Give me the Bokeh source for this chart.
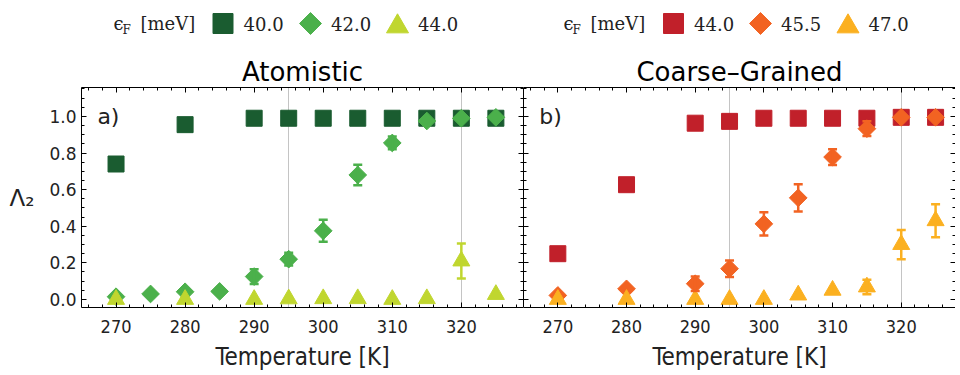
import numpy as np
from bokeh.plotting import figure
from bokeh.layouts import column, row
from bokeh.models import (Range1d, LinearAxis, SingleIntervalTicker, FixedTicker,
                          PrintfTickFormatter, Whisker, TeeHead, ColumnDataSource, Label)
from bokeh.core.properties import value
from bokeh.embed import file_html
from bokeh.resources import INLINE

# ---------------- data ----------------
T_main = [270, 280, 290, 295, 300, 305, 310, 315, 320, 325]
T_fine = [270, 275, 280, 285, 290, 295, 300, 305, 310, 315, 320, 325]

# Atomistic (a)
A40 = [0.74, 0.955, 0.99, 0.99, 0.99, 0.99, 0.99, 0.99, 0.99, 0.99]
A42 = [0.015, 0.03, 0.042, 0.044, 0.125, 0.22, 0.375, 0.68, 0.855, 0.975, 0.99, 0.995]
A42_err = [0, 0, 0, 0, 0.04, 0.035, 0.06, 0.056, 0.035, 0, 0, 0]
A44 = [0.0, 0.0, 0.0, 0.003, 0.004, 0.004, 0.0, 0.004, 0.21, 0.027]
A44_err = [0, 0, 0, 0, 0, 0, 0, 0, 0.095, 0]

# Coarse-Grained (b)
C44 = [0.25, 0.627, 0.963, 0.973, 0.99, 0.99, 0.99, 0.99, 0.995, 0.995]
C455 = [0.022, 0.058, 0.086, 0.168, 0.413, 0.555, 0.778, 0.933, 0.995, 0.995]
C455_err = [0, 0, 0.04, 0.045, 0.063, 0.075, 0.043, 0.04, 0, 0]
C47 = [0.0, 0.0, 0.0, 0.0, 0.0, 0.024, 0.05, 0.068, 0.30, 0.43]
C47_err = [0, 0, 0, 0, 0, 0, 0, 0.04, 0.08, 0.09]

left_labels = ["40.0", "42.0", "44.0"]
right_labels = ["44.0", "45.5", "47.0"]
left_colors = ["#1a5c30", "#4bb04b", "#c0d62f"]
right_colors = ["#c1202a", "#f26322", "#fbb020"]

SANS = "DejaVu Sans"
COND = "DejaVu Sans Condensed"
SERIF = "DejaVu Serif"


def style_axis(ax, ticker, labels=True):
    ax.ticker = ticker
    ax.axis_line_color = "black"
    ax.axis_line_width = 1
    ax.major_tick_in = 5
    ax.major_tick_out = 0
    ax.minor_tick_in = 3
    ax.minor_tick_out = 0
    ax.major_tick_line_color = "black"
    ax.minor_tick_line_color = "black"
    if not labels:
        ax.major_label_text_font_size = "1px"
        ax.major_label_text_color = None
        ax.major_label_standoff = 0
        ax.axis_label = None


def add_series(p, x, y, err, color, kind):
    if kind == "square":
        p.scatter(x, y, marker="square", size=16, color=color)
    elif kind == "diamond":
        p.scatter(x, y, marker="square", angle=np.pi / 4, size=12.5, color=color)
    else:
        p.scatter(x, y, marker="triangle", size=17, color=color)
    if err is not None:
        xs = [xi for xi, e in zip(x, err) if e > 0]
        up = [yi + e for yi, e in zip(y, err) if e > 0]
        lo = [yi - e for yi, e in zip(y, err) if e > 0]
        src = ColumnDataSource(dict(x=xs, upper=up, lower=lo))
        w = Whisker(source=src, base="x", upper="upper", lower="lower", dimension="height",
                    line_color=color, line_width=2.5,
                    upper_head=TeeHead(size=9, line_color=color, line_width=2.5),
                    lower_head=TeeHead(size=9, line_color=color, line_width=2.5))
        w.level = "glyph"
        p.add_layout(w)


def make_panel(title, tag, xmax, fw, mb_left, ylabels):
    p = figure(frame_width=fw, frame_height=220,
               x_range=Range1d(265, xmax), y_range=Range1d(-0.044, 1.158),
               toolbar_location=None, output_backend="svg",
               min_border_left=mb_left, min_border_right=0,
               min_border_top=39, min_border_bottom=68, title=title)
    p.outline_line_color = None
    p.background_fill_color = "white"
    p.border_fill_color = "white"
    p.title.align = "center"
    p.title.text_font = SANS
    p.title.text_font_size = "26px"
    p.title.text_font_style = "normal"
    p.title.text_color = "black"
    p.title.standoff = 2

    xa = p.xaxis[0]
    style_axis(xa, SingleIntervalTicker(interval=10, num_minor_ticks=5))
    xa.major_label_text_font = COND
    xa.major_label_text_font_size = "18px"
    xa.major_label_text_color = "#222222"
    xa.major_label_standoff = 12
    xa.axis_label = "Temperature [K]"
    xa.axis_label_text_font = COND
    xa.axis_label_text_font_size = "24px"
    xa.axis_label_text_font_style = "normal"
    xa.axis_label_text_color = "#222222"
    xa.axis_label_standoff = 7

    ya = p.yaxis[0]
    style_axis(ya, SingleIntervalTicker(interval=0.2, num_minor_ticks=4), labels=ylabels)
    if ylabels:
        ya.formatter = PrintfTickFormatter(format="%.1f")
        ya.major_label_text_font = SANS
        ya.major_label_text_font_size = "17px"
        ya.major_label_text_color = "#222222"
        ya.major_label_standoff = 5
        ya.axis_label = "Λ₂"
        ya.axis_label_orientation = "horizontal"
        ya.axis_label_text_font = SANS
        ya.axis_label_text_font_size = "23px"
        ya.axis_label_text_font_style = "normal"
        ya.axis_label_text_color = "#222222"
        ya.axis_label_standoff = 12

    top = LinearAxis()
    style_axis(top, SingleIntervalTicker(interval=10, num_minor_ticks=5), labels=False)
    p.add_layout(top, "above")
    right = LinearAxis()
    style_axis(right, SingleIntervalTicker(interval=0.2, num_minor_ticks=4), labels=False)
    p.add_layout(right, "right")

    p.xgrid.ticker = FixedTicker(ticks=[295, 320])
    p.xgrid.grid_line_color = "#c4c4c4"
    p.xgrid.grid_line_width = 1
    p.ygrid.visible = False

    p.add_layout(Label(x=267.3, y=1.0, text=tag, text_baseline="middle",
                       text_font=SANS, text_font_size="22px", text_color="#222222"))
    return p


pL = make_panel("Atomistic", "a)", 329.0, 442, 81, True)
add_series(pL, T_main, A40, None, left_colors[0], "square")
add_series(pL, T_fine, A42, A42_err, left_colors[1], "diamond")
add_series(pL, T_main, A44, A44_err, left_colors[2], "triangle")

pR = make_panel("Coarse–Grained", "b)", 327.9, 432, 0, False)
add_series(pR, T_main, C44, None, right_colors[0], "square")
add_series(pR, T_main, C455, C455_err, right_colors[1], "diamond")
add_series(pR, T_main, C47, C47_err, right_colors[2], "triangle")

# ---------------- legend strip ----------------
lg = figure(width=958, height=48, x_range=Range1d(0, 958), y_range=Range1d(0, 48),
            x_axis_type=None, y_axis_type=None, toolbar_location=None,
            output_backend="svg", min_border=0)
lg.outline_line_color = None
lg.background_fill_color = "white"
lg.border_fill_color = "white"

for title_x, keys_x, labels, colors in [
        (113, [222.5, 310, 397], left_labels, left_colors),
        (563, [673, 760, 847.5], right_labels, right_colors)]:
    lg.text([title_x], [25], text=["ϵ"], text_font=value(SERIF), text_font_size="18px",
            text_baseline="middle", text_color="#222222")
    lg.text([title_x + 9], [19], text=["F"], text_font=value(SERIF), text_font_size="12px",
            text_baseline="middle", text_color="#222222")
    lg.text([title_x + 27], [25], text=["[meV]"], text_font=value(SERIF), text_font_size="18px",
            text_baseline="middle", text_color="#222222")
    lg.scatter([keys_x[0]], [25], marker="square", size=20, color=colors[0])
    lg.scatter([keys_x[1]], [25], marker="square", angle=np.pi / 4, size=15.5, color=colors[1])
    lg.scatter([keys_x[2]], [22], marker="triangle", size=22, color=colors[2])
    lg.text([k + 20.5 for k in keys_x], [25] * 3, text=labels, text_font=value(SERIF),
            text_font_size="18px", text_baseline="middle", text_color="#222222")

layout = column(lg, row(pL, pR, spacing=0), spacing=0)
open("out.html", "w").write(file_html(layout, INLINE))
